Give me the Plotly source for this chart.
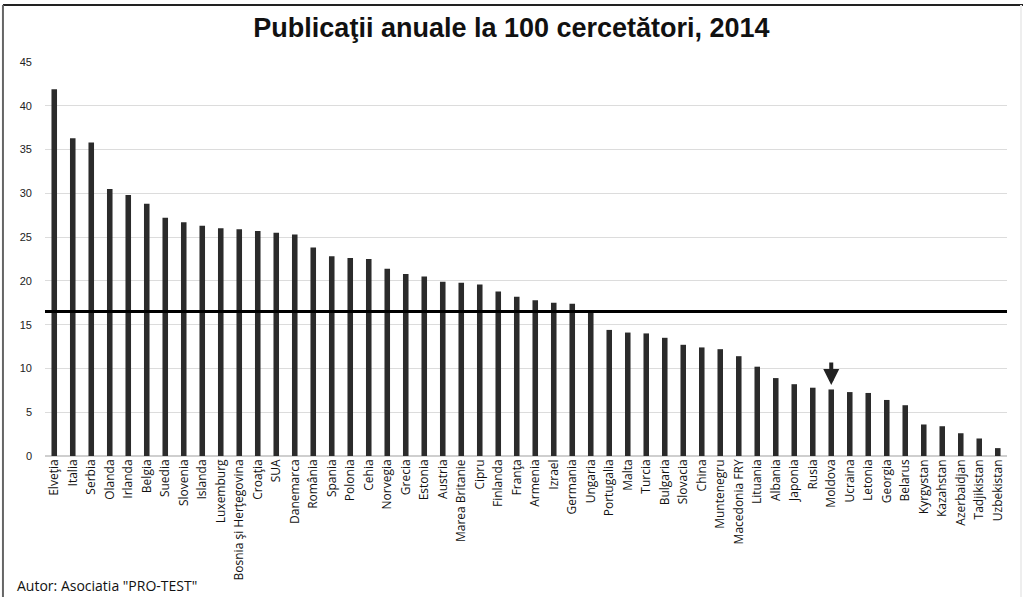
import plotly.graph_objects as go

countries = [
    "Elveţia", "Italia", "Serbia", "Olanda", "Irlanda", "Belgia", "Suedia", "Slovenia",
    "Islanda", "Luxemburg", "Bosnia şi Herţegovina", "Croaţia", "SUA", "Danemarca",
    "România", "Spania", "Polonia", "Cehia", "Norvegia", "Grecia", "Estonia", "Austria",
    "Marea Britanie", "Cipru", "Finlanda", "Franţa", "Armenia", "Izrael", "Germania",
    "Ungaria", "Portugalia", "Malta", "Turcia", "Bulgaria", "Slovacia", "China",
    "Muntenegru", "Macedonia FRY", "Lituania", "Albania", "Japonia", "Rusia", "Moldova",
    "Ucraina", "Letonia", "Georgia", "Belarus", "Kyrgystan", "Kazahstan", "Azerbaidjan",
    "Tadjikistan", "Uzbekistan",
]
publications = [
    41.9, 36.3, 35.8, 30.5, 29.8, 28.8, 27.2, 26.7,
    26.3, 26.0, 25.9, 25.7, 25.5, 25.3,
    23.8, 22.8, 22.6, 22.5, 21.4, 20.8, 20.5, 19.9,
    19.8, 19.6, 18.8, 18.2, 17.8, 17.5, 17.4,
    16.6, 14.4, 14.1, 14.0, 13.5, 12.7, 12.4,
    12.2, 11.4, 10.2, 8.9, 8.2, 7.8, 7.6,
    7.3, 7.2, 6.4, 5.8, 3.6, 3.4, 2.6,
    2.0, 0.9,
]
reference_level = 16.5
highlight = "Moldova"
y_ticks = [0, 5, 10, 15, 20, 25, 30, 35, 40, 45]

fig = go.Figure()
fig.add_trace(go.Bar(
    x=countries, y=publications, width=0.3,
    marker=dict(color="#2b2b2b", line=dict(width=0)),
    hoverinfo="x+y",
))

fig.add_shape(type="line", xref="x domain", yref="y", x0=0, x1=1,
              y0=reference_level, y1=reference_level,
              line=dict(color="black", width=3))

# image frame (top, left, right)
fig.add_shape(type="line", xref="paper", yref="paper", x0=-0.0437, x1=1.02,
              y0=1.1447, y1=1.1447, line=dict(color="#222", width=2))
fig.add_shape(type="line", xref="paper", yref="paper", x0=-0.0437, x1=-0.0437,
              y0=1.1447, y1=-0.36, line=dict(color="#666", width=2))
fig.add_shape(type="line", xref="paper", yref="paper", x0=1.0146, x1=1.0146,
              y0=1.1447, y1=-0.36, line=dict(color="#eee", width=2))

hi_idx = countries.index(highlight)
fig.add_annotation(x=highlight, y=publications[hi_idx] + 0.5, ax=0, ay=-24,
                   showarrow=True, arrowhead=2, arrowsize=0.8, arrowwidth=4,
                   arrowcolor="#222", text="")

fig.add_annotation(xref="paper", yref="paper", x=-0.031, y=-0.328,
                   xanchor="left", yanchor="middle", showarrow=False,
                   text='Autor: Asociatia "PRO-TEST"',
                   font=dict(family="Open Sans", size=14, color="#111"))

fig.update_layout(
    width=1023, height=597,
    margin=dict(l=45, r=16, t=62, b=141),
    paper_bgcolor="white", plot_bgcolor="white",
    showlegend=False,
    title=dict(text="<b>Publicaţii anuale la 100 cercetători, 2014</b>",
               x=0.5, xanchor="center", y=0.954, yanchor="middle",
               font=dict(family="Liberation Sans", size=27, color="#111")),
    bargap=0.7,
)
fig.update_xaxes(type="category", range=[-0.5, len(countries) - 0.5],
                 tickangle=-90, showgrid=False, showline=False,
                 tickfont=dict(family="Open Sans", size=12, color="#111"),
                 ticks="", automargin=False)
fig.update_yaxes(range=[0, 45], tickvals=y_ticks, showgrid=True,
                 gridcolor="#dcdcdc", gridwidth=1, zeroline=True,
                 zerolinecolor="#cfcfcf", showline=False,
                 tickfont=dict(family="Liberation Sans", size=11, color="#222"),
                 ticklabelstandoff=12, automargin=False)

fig.write_html("out.html", config={"displayModeBar": False},
               post_script="document.body.style.margin='0';document.body.style.overflow='hidden';")
